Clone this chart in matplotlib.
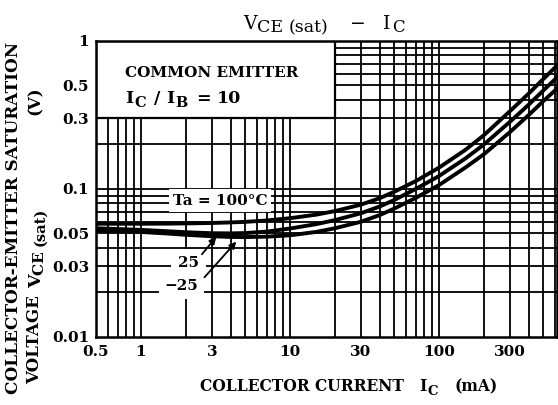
import numpy as np
import matplotlib
matplotlib.use("Agg")
import matplotlib.pyplot as plt
from matplotlib.patches import Rectangle

# ---- data ----
ic_ma = [0.5, 0.7, 1, 1.5, 2, 3, 4, 5, 7, 10, 15, 20, 30, 40, 50, 70, 100,
         150, 200, 300, 400, 500, 620]
vce_100 = [0.0582, 0.0582, 0.0582, 0.0583, 0.0585, 0.0589, 0.0594, 0.0599, 0.0612,
           0.0634, 0.0670, 0.0708, 0.0783, 0.0865, 0.0955, 0.113, 0.139,
           0.183, 0.230, 0.335, 0.44, 0.55, 0.68]
vce_25 = [0.0542, 0.0536, 0.0529, 0.0518, 0.0510, 0.0502, 0.0501, 0.0503, 0.0515,
          0.0540, 0.0578, 0.0615, 0.0685, 0.0760, 0.0840, 0.100, 0.122,
          0.160, 0.199, 0.284, 0.37, 0.46, 0.565]
vce_m25 = [0.0525, 0.0519, 0.0512, 0.0500, 0.0490, 0.0479, 0.0474, 0.0473, 0.0476,
           0.0486, 0.0512, 0.0542, 0.0600, 0.0665, 0.0735, 0.0870, 0.106,
           0.139, 0.171, 0.242, 0.315, 0.39, 0.475]

x_ticks = [0.5, 1, 3, 10, 30, 100, 300]
x_tick_labels = ["0.5", "1", "3", "10", "30", "100", "300"]
y_ticks = [0.01, 0.03, 0.05, 0.1, 0.3, 0.5, 1]
y_tick_labels = ["0.01", "0.03", "0.05", "0.1", "0.3", "0.5", "1"]

plt.rcParams['font.family'] = ['DejaVu Serif']

W, H = 558, 405
fig = plt.figure(figsize=(W / 100, H / 100), dpi=100)
ax = fig.add_axes([0.172, 0.168, 0.826, 0.731])
ax.set_xscale('log')
ax.set_yscale('log')
ax.set_xlim(0.5, 620)
ax.set_ylim(0.01, 1)

# grid lines (1..9 per decade)
gx = [m * 10.0 ** e for e in range(-1, 3) for m in range(1, 10)]
gy = [m * 10.0 ** e for e in range(-2, 0) for m in range(1, 10)]
for v in gx:
    if 0.5 < v < 620:
        ax.axvline(v, color='black', lw=1.3, zorder=1)
for v in gy:
    if 0.01 < v < 1:
        ax.axhline(v, color='black', lw=1.3, zorder=1)

# white box with condition text
ax.add_patch(Rectangle((0.5, 0.3), 20 - 0.5, 1 - 0.3, facecolor='white',
                       edgecolor='black', lw=1.6, zorder=3))

# curves
for vals in (vce_100, vce_25, vce_m25):
    ax.plot(ic_ma, vals, color='black', lw=2.8, zorder=5)

# labels
ax.text(3.4, 0.0835, "Ta = 100°C", fontsize=11, fontweight='bold', ha='center',
        va='center', bbox=dict(facecolor='white', edgecolor='none', pad=3), zorder=4)
ax.text(2.1, 0.0316, "25", fontsize=11, fontweight='bold', ha='center',
        va='center', bbox=dict(facecolor='white', edgecolor='none', pad=5), zorder=4)
ax.text(1.87, 0.022, "−25", fontsize=11, fontweight='bold', ha='center',
        va='center', bbox=dict(facecolor='white', edgecolor='none', pad=4), zorder=4)
ax.annotate("", xy=(3.3, 0.049), xytext=(2.5, 0.035),
            arrowprops=dict(arrowstyle='-|>', color='black', lw=1.3, mutation_scale=10), zorder=6)
ax.annotate("", xy=(4.5, 0.0455), xytext=(2.6, 0.0245),
            arrowprops=dict(arrowstyle='-|>', color='black', lw=1.3, mutation_scale=10), zorder=6)

# ticks
ax.set_xticks(x_ticks)
ax.set_xticklabels(x_tick_labels)
ax.set_yticks(y_ticks)
ax.set_yticklabels(y_tick_labels)
ax.xaxis.set_minor_locator(matplotlib.ticker.NullLocator())
ax.yaxis.set_minor_locator(matplotlib.ticker.NullLocator())
ax.tick_params(axis='x', length=0, pad=6, labelsize=11)
ax.tick_params(axis='y', length=0, pad=5, labelsize=11)
for lab in ax.get_xticklabels() + ax.get_yticklabels():
    lab.set_fontweight('bold')
for s in ax.spines.values():
    s.set_linewidth(1.8)
    s.set_zorder(7)

renderer = fig.canvas.get_renderer()


def place(pieces, weight='normal'):
    """pieces: (text, left_x_px, baseline_y_px_from_top, size)."""
    for s, x, y, size in pieces:
        fig.text(x / W, (H - y) / H, s, fontsize=size, fontweight=weight,
                 ha='left', va='baseline', zorder=8)


def seq_v(pieces, x_base, y_center, weight='normal'):
    """Vertical (rotated 90) run of text pieces; x_base is baseline x in px."""
    ts, ws = [], []
    for s, size, off in pieces:
        t = fig.text(0, 0, s, fontsize=size, fontweight=weight, ha='left',
                     va='baseline', rotation=90, rotation_mode='anchor')
        ws.append(t.get_window_extent(renderer).height)
        ts.append(t)
    p = y_center - sum(ws) / 2
    for t, w, (s, size, off) in zip(ts, ws, pieces):
        t.set_position(((x_base + off) / W, p / H))
        p += w


# condition text inside the box
place([("COMMON EMITTER", 125, 77, 11)], weight='bold')
place([("I", 125, 103, 12.5), ("C", 134, 107, 10.5), ("/", 154, 103, 12.5),
       ("I", 166, 103, 12.5), ("B", 175, 107, 10.5), ("=", 196, 103, 12.5),
       ("10", 217, 103, 12.5)], weight='bold')

# title
place([("V", 243, 29, 13.5), ("CE", 257, 32, 12.5), ("(sat)", 289, 32, 12.5),
       ("−", 350, 29, 13.5), ("I", 383, 29, 13.5), ("C", 392, 32, 12)])

# x label
place([("COLLECTOR CURRENT", 200, 391, 11.2), ("I", 419, 391, 11.2),
       ("C", 427, 395, 9.5), ("(mA)", 455, 391, 11.2)], weight='bold')

# y label (two columns)
fig.text(13.7 / W, (H - 218) / H, "COLLECTOR-EMITTER SATURATION", rotation=90,
         fontsize=12.2, fontweight='bold', ha='center', va='center')
fig.text(35 / W, (H - 340) / H, "VOLTAGE", rotation=90, fontsize=12,
         fontweight='bold', ha='center', va='center')
seq_v([("V", 12.5, 0), ("CE ", 11, 3.5), ("(sat)", 10.5, 3.5)], 41, H - 248, weight='bold')
fig.text(35 / W, (H - 101) / H, "(V)", rotation=90, fontsize=12,
         fontweight='bold', ha='center', va='center')

fig.savefig("out.png", dpi=100)
